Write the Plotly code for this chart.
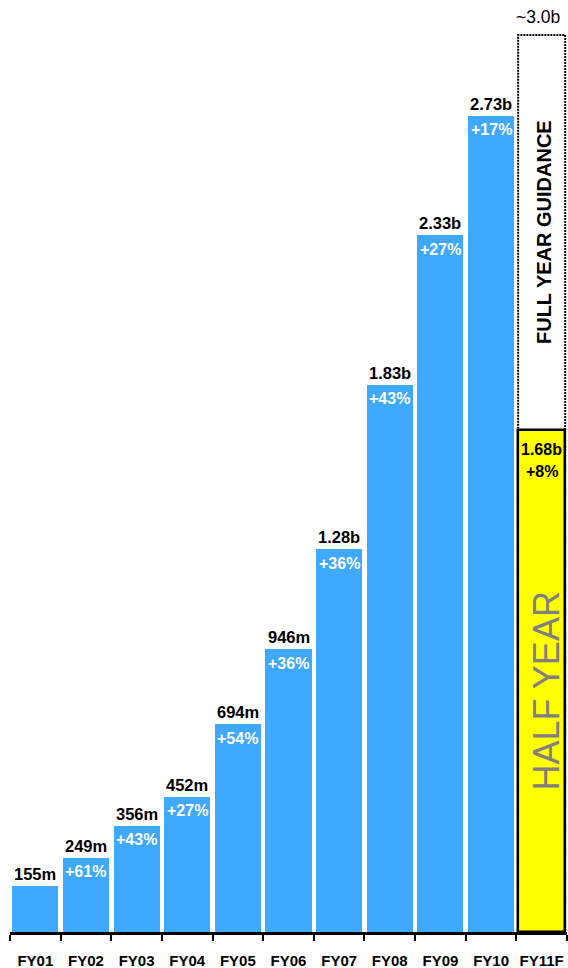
import plotly.graph_objects as go

# Annual revenue by fiscal year (billions), with labels and growth rates
categories = ["FY01", "FY02", "FY03", "FY04", "FY05", "FY06", "FY07", "FY08", "FY09", "FY10", "FY11F"]
revenue_b = [0.155, 0.249, 0.356, 0.452, 0.694, 0.946, 1.28, 1.83, 2.33, 2.73]
value_labels = ["155m", "249m", "356m", "452m", "694m", "946m", "1.28b", "1.83b", "2.33b", "2.73b"]
growth_labels = ["", "+61%", "+43%", "+27%", "+54%", "+36%", "+36%", "+43%", "+27%", "+17%"]

# FY11 forecast: half-year actual and full-year guidance
half_year_b = 1.68
half_year_label = "1.68b"
half_year_growth = "+8%"
guidance_b = 3.0
guidance_label = "~3.0b"

BLUE = "#3EA9FE"
YELLOW = "#FFFF00"
FONT = "Liberation Sans, Arial, sans-serif"

hist_cats = categories[:len(revenue_b)]
fc_cat = categories[-1]
fc_idx = categories.index(fc_cat)
fc_width = 0.93

fig = go.Figure()

fig.add_trace(go.Bar(
    x=hist_cats, y=revenue_b, width=0.91,
    marker=dict(color=BLUE, line=dict(width=0)),
    hoverinfo="skip", showlegend=False,
))
# full-year guidance box
fig.add_trace(go.Bar(
    x=[fc_cat], y=[guidance_b], width=fc_width,
    marker=dict(color="white", line=dict(width=0)),
    hoverinfo="skip", showlegend=False,
))
# half-year actual
fig.add_trace(go.Bar(
    x=[fc_cat], y=[half_year_b], width=fc_width,
    marker=dict(color=YELLOW, line=dict(color="black", width=2.5)),
    hoverinfo="skip", showlegend=False,
))

# dotted outline around the guidance box
fig.add_shape(
    type="rect", xref="x", yref="y", layer="above",
    x0=fc_idx - fc_width / 2, x1=fc_idx + fc_width / 2, y0=0, y1=guidance_b,
    line=dict(color="black", width=2, dash="2px,1px"),
)

annotations = []
for cat, val, lab, gr in zip(hist_cats, revenue_b, value_labels, growth_labels):
    annotations.append(dict(
        x=cat, y=val, text=lab, showarrow=False, yanchor="middle", yshift=12,
        font=dict(family=FONT, size=16.5, color="black", weight="bold"),
    ))
    if gr:
        annotations.append(dict(
            x=cat, y=val, text=gr, showarrow=False, yanchor="middle", yshift=-14,
            font=dict(family=FONT, size=16, color="white", weight="bold"),
        ))

annotations += [
    dict(x=fc_cat, y=half_year_b, text=half_year_label, showarrow=False,
         yanchor="middle", yshift=-20,
         font=dict(family=FONT, size=16, color="black", weight="bold")),
    dict(x=fc_cat, y=half_year_b, text=half_year_growth, showarrow=False,
         yanchor="middle", yshift=-42,
         font=dict(family=FONT, size=16, color="black", weight="bold")),
    dict(x=fc_cat, y=guidance_b, text=guidance_label, showarrow=False,
         yanchor="middle", yshift=18, xshift=-4,
         font=dict(family=FONT, size=17.5, color="black")),
    dict(x=fc_cat, y=(half_year_b + guidance_b) / 2, text="FULL YEAR GUIDANCE",
         showarrow=False, textangle=-90, yanchor="middle", xanchor="center", xshift=3,
         font=dict(family=FONT, size=20, color="black", weight="bold")),
    dict(x=fc_cat, y=half_year_b / 2, text="HALF YEAR", showarrow=False,
         textangle=-90, yanchor="middle", xanchor="center", yshift=-10, xshift=5,
         font=dict(family=FONT, size=36, color="#808080")),
]

fig.update_layout(
    width=568, height=968,
    margin=dict(l=10, r=1, t=0, b=36, autoexpand=False),
    paper_bgcolor="white", plot_bgcolor="white",
    barmode="overlay", bargap=0,
    annotations=annotations,
    xaxis=dict(
        type="category", categoryorder="array", categoryarray=categories,
        range=[-0.5, len(categories) - 0.5],
        showline=True, linecolor="black", linewidth=3,
        ticks="outside", tickson="boundaries", ticklen=6, tickwidth=2, tickcolor="black",
        tickangle=0, automargin=False, ticklabelstandoff=13,
        tickfont=dict(family=FONT, size=15, color="black", weight="bold"),
        showgrid=False, zeroline=False, fixedrange=True,
    ),
    yaxis=dict(visible=False, range=[0, 3.117], showgrid=False, zeroline=False, fixedrange=True),
)

fig.write_html("out.html", config={"displayModeBar": False})
